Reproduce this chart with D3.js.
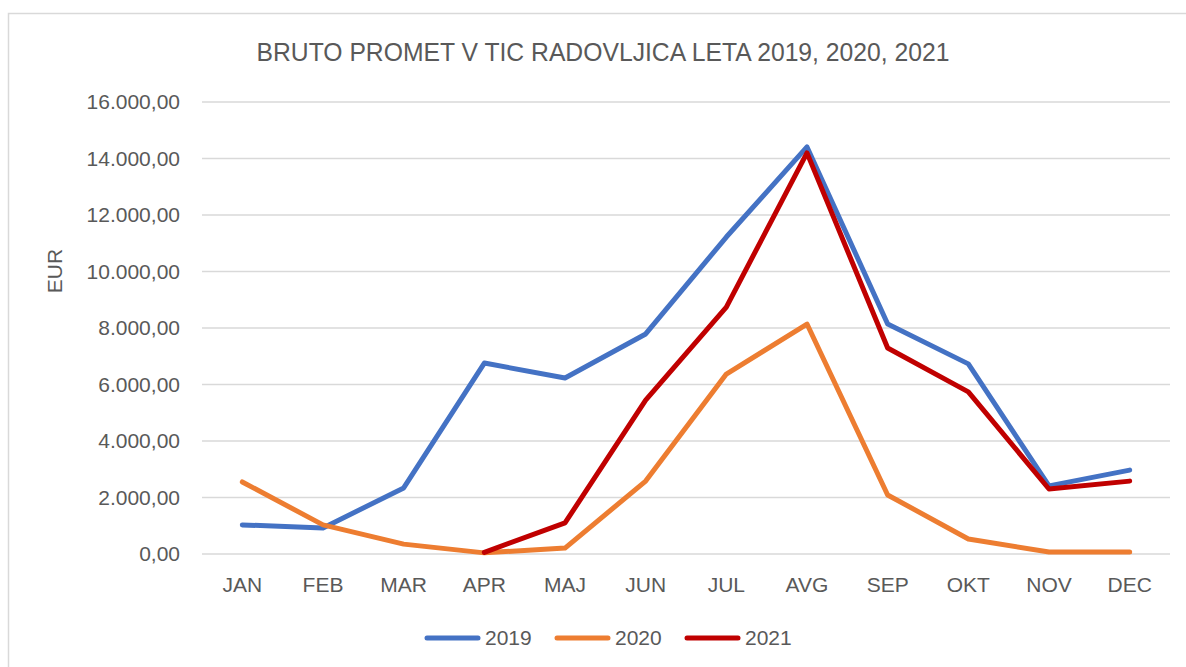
<!DOCTYPE html>
<html>
<head>
<meta charset="utf-8">
<script src="https://cdn.jsdelivr.net/npm/d3@7"></script>
<style>
  body { margin: 0; background: #fff; }
  text { font-family: "Liberation Sans", Arial, sans-serif; fill: #595959; }
</style>
</head>
<body>
<svg width="1186" height="667"></svg>
<script>
const months = ["JAN", "FEB", "MAR", "APR", "MAJ", "JUN", "JUL", "AVG", "SEP", "OKT", "NOV", "DEC"];
const values2019 = [1030, 920, 2340, 6760, 6230, 7790, 11220, 14410, 8140, 6730, 2410, 2970];
const values2020 = [2550, 1030, 350, 40, 210, 2580, 6370, 8140, 2090, 530, 70, 70];
const values2021 = [null, null, null, 60, 1100, 5450, 8740, 14200, 7290, 5740, 2300, 2580];
const yTicks = [0, 2000, 4000, 6000, 8000, 10000, 12000, 14000, 16000];

const seriesList = [
  { name: "2019", values: values2019, color: "#4472C4" },
  { name: "2020", values: values2020, color: "#ED7D31" },
  { name: "2021", values: values2021, color: "#C00000" }
];

const svg = d3.select("svg");
const margin = { left: 202, right: 1170, top: 102, bottom: 554 };

// chart frame
svg.append("rect")
  .attr("x", 8.5).attr("y", 13.5)
  .attr("width", 1200).attr("height", 700)
  .attr("fill", "none")
  .attr("stroke", "#d9d9d9")
  .attr("stroke-width", 1.5);

const x = d3.scaleBand()
  .domain(months)
  .range([margin.left, margin.right]);

const y = d3.scaleLinear()
  .domain([0, 16000])
  .range([margin.bottom, margin.top]);

// number format like 16.000,00
const fmt = d3.formatLocale({ decimal: ",", thousands: ".", grouping: [3], currency: ["", " €"] }).format(",.2f");

// gridlines
svg.append("g")
  .selectAll("line")
  .data(yTicks)
  .join("line")
  .attr("x1", margin.left).attr("x2", margin.right)
  .attr("y1", d => y(d)).attr("y2", d => y(d))
  .attr("stroke", "#d9d9d9")
  .attr("stroke-width", 1.5);

// y labels
svg.append("g")
  .selectAll("text")
  .data(yTicks)
  .join("text")
  .attr("x", 180)
  .attr("y", d => y(d))
  .attr("dy", "0.35em")
  .attr("text-anchor", "end")
  .style("font-size", "21px")
  .text(d => fmt(d));

// x labels
svg.append("g")
  .selectAll("text")
  .data(months)
  .join("text")
  .attr("x", d => x(d) + x.bandwidth() / 2)
  .attr("y", 592)
  .attr("text-anchor", "middle")
  .style("font-size", "21px")
  .text(d => d);

// lines
const line = d3.line()
  .defined(d => d.v != null)
  .x(d => x(d.m) + x.bandwidth() / 2)
  .y(d => y(d.v));

svg.append("g")
  .selectAll("path")
  .data(seriesList)
  .join("path")
  .attr("d", s => line(months.map((m, i) => ({ m: m, v: s.values[i] }))))
  .attr("fill", "none")
  .attr("stroke", s => s.color)
  .attr("stroke-width", 5)
  .attr("stroke-linejoin", "round")
  .attr("stroke-linecap", "round");

// title
svg.append("text")
  .attr("x", 603)
  .attr("y", 61)
  .attr("text-anchor", "middle")
  .attr("textLength", 693)
  .attr("lengthAdjust", "spacingAndGlyphs")
  .style("font-size", "26px")
  .text("BRUTO PROMET V TIC RADOVLJICA LETA 2019, 2020, 2021");

// y axis title
svg.append("text")
  .attr("transform", "translate(62,271) rotate(-90)")
  .attr("text-anchor", "middle")
  .style("font-size", "21px")
  .text("EUR");

// legend
const legend = svg.append("g")
  .selectAll("g")
  .data(seriesList)
  .join("g")
  .attr("transform", (d, i) => `translate(${427 + i * 130},638)`);

legend.append("line")
  .attr("x1", 0).attr("x2", 51)
  .attr("stroke", d => d.color)
  .attr("stroke-width", 5)
  .attr("stroke-linecap", "round");

legend.append("text")
  .attr("x", 58)
  .attr("dy", "0.35em")
  .style("font-size", "21px")
  .text(d => d.name);
</script>
</body>
</html>
